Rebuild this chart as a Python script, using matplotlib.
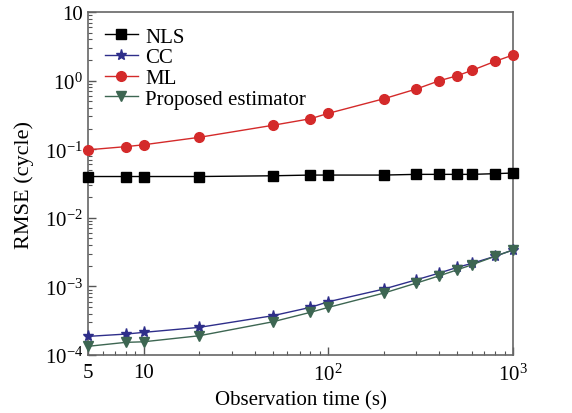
import matplotlib
matplotlib.use("Agg")
import matplotlib.pyplot as plt
from matplotlib.ticker import FixedLocator, FixedFormatter, LogLocator, NullFormatter

plt.rcParams['font.family'] = ['Liberation Serif', 'DejaVu Serif']
plt.rcParams['mathtext.fontset'] = 'custom'
plt.rcParams['mathtext.rm'] = 'Liberation Serif'
plt.rcParams['mathtext.it'] = 'Liberation Serif:italic'

obs_time = [5, 8, 10, 20, 50, 80, 100, 200, 300, 400, 500, 600, 800, 1000]
nls = [0.040, 0.040, 0.040, 0.040, 0.041, 0.042, 0.042, 0.042, 0.043, 0.043, 0.043, 0.043, 0.044, 0.045]
cc = [1.87e-4, 2.02e-4, 2.14e-4, 2.53e-4, 3.74e-4, 4.95e-4, 5.98e-4, 9.16e-4, 1.25e-3, 1.57e-3, 1.90e-3, 2.17e-3, 2.75e-3, 3.40e-3]
ml = [0.098, 0.109, 0.116, 0.149, 0.223, 0.278, 0.333, 0.544, 0.755, 0.997, 1.18, 1.41, 1.91, 2.36]
proposed = [1.34e-4, 1.53e-4, 1.56e-4, 1.91e-4, 3.05e-4, 4.19e-4, 4.95e-4, 8.0e-4, 1.12e-3, 1.43e-3, 1.75e-3, 2.07e-3, 2.75e-3, 3.40e-3]

xticks = [5, 10, 100, 1000]
xticklabels = ['5', '10', r'$10^{2}$', r'$10^{3}$']
yticks = [1e-4, 1e-3, 1e-2, 1e-1, 1, 10]
yticklabels = [r'$10^{-4}$', r'$10^{-3}$', r'$10^{-2}$', r'$10^{-1}$', r'$10^{0}$', '10']

fig = plt.figure(figsize=(5.72, 4.14), dpi=100)
ax = fig.add_axes([0.1538, 0.140, 0.743, 0.8286])

ax.plot(obs_time, nls, '-s', color='black', lw=1.0, ms=6.5, label='NLS', clip_on=False, zorder=3)
ax.plot(obs_time, cc, '-*', color='#2e2e8a', lw=1.0, ms=8, label='CC', clip_on=False, zorder=3)
ax.plot(obs_time, ml, '-o', color='#d42a2a', lw=1.0, ms=7, label='ML', clip_on=False, zorder=3)
ax.plot(obs_time, proposed, '-v', color='#3d6652', lw=1.0, ms=7, label='Proposed estimator', clip_on=False, zorder=3)

ax.set_xscale('log')
ax.set_yscale('log')
ax.set_xlim(5, 1000)
ax.set_ylim(1e-4, 10)

ax.xaxis.set_major_locator(FixedLocator(xticks))
ax.xaxis.set_major_formatter(FixedFormatter(xticklabels))
ax.xaxis.set_minor_locator(LogLocator(base=10, subs=range(2, 10), numticks=20))
ax.xaxis.set_minor_formatter(NullFormatter())
ax.yaxis.set_major_locator(FixedLocator(yticks))
ax.yaxis.set_major_formatter(FixedFormatter(yticklabels))
ax.yaxis.set_minor_locator(LogLocator(base=10, subs=range(2, 10), numticks=20))
ax.yaxis.set_minor_formatter(NullFormatter())

ax.tick_params(which='both', direction='in', top=False, right=False, color='#555555', labelsize=15)
ax.tick_params(which='major', length=6, width=1.0)
ax.tick_params(which='minor', length=3, width=0.8)
ax.tick_params(axis='x', pad=6)
for s in ax.spines.values():
    s.set_color('#666666')
    s.set_linewidth(1.2)

ax.set_ylabel('RMSE (cycle)', fontsize=16, labelpad=8)
ax.set_xlabel('Observation time (s)', fontsize=15, labelpad=4)

ax.legend(loc='upper left', bbox_to_anchor=(0.02, 0.98), frameon=False, fontsize=15,
          handlelength=1.6, handletextpad=0.35, labelspacing=0.05, borderaxespad=0.0)

fig.savefig('out.png', dpi=100)
